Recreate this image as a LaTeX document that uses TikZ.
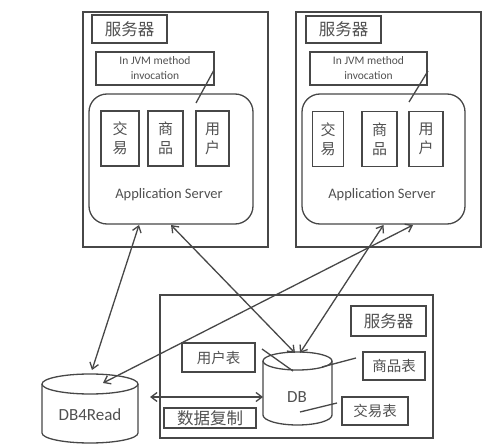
\documentclass[tikz,border=0pt]{standalone}
\usepackage{fontspec}
\setmainfont{Carlito}
\newfontfamily\cjk{Noto Sans CJK SC}
\usetikzlibrary{arrows.meta}
\definecolor{linec}{HTML}{474747}
\definecolor{txtc}{HTML}{505050}
\newcommand{\cjkbig}{\cjk\fontsize{16.5}{18}\selectfont}
\newcommand{\cjkin}{\cjk\fontsize{15}{19}\selectfont}
\newcommand{\cjktab}{\cjk\fontsize{14.5}{16}\selectfont}
\newcommand{\jvmf}{\fontsize{11.5}{15}\selectfont}
\newcommand{\appf}{\fontsize{14.5}{16}\selectfont}
\newcommand{\dbf}{\fontsize{17}{19}\selectfont}
\tikzset{
  ln/.style={draw=linec, line width=1.3pt},
  bx/.style={ln, rectangle, inner sep=0pt, outer sep=0pt, text=txtc},
  ghost/.style={rectangle, inner sep=0pt, outer sep=0pt},
  lbl/.style={text=txtc, inner sep=0pt},
  arr/.style={ln, {Straight Barb[length=6pt,width=9pt]}-{Straight Barb[length=6pt,width=9pt]}},
}
\begin{document}
\begin{tikzpicture}[x=1pt,y=-1pt]
\useasboundingbox (0,0) rectangle (490,446);
% left server
\node[bx, minimum width=185pt, minimum height=235pt] (srvL) at (175.5,129.5) {};
\node[bx, minimum width=75pt, minimum height=28pt, font=\cjkbig] (labL) at (129.5,29) {服务器};
\node[bx, minimum width=118pt, minimum height=33pt, align=center, font=\jvmf] (jvmL) at (155,68.5) {In JVM method\\invocation};
\node[bx, rounded corners=18pt, minimum width=164pt, minimum height=130pt] (appL) at (171,159) {};
\node[lbl, font=\appf] (appLt) at (169,195) {Application Server};
\node[bx, minimum width=38pt, minimum height=55pt, align=center, font=\cjkin] (jyL) at (120,138.5) {交\\易};
\node[bx, minimum width=35pt, minimum height=55pt, align=center, font=\cjkin] (spL) at (165.5,138.5) {商\\品};
\node[bx, minimum width=33pt, minimum height=55pt, align=center, font=\cjkin] (yhL) at (212.5,138.5) {用\\户};
\draw[ln] ([shift={(0,1.5)}]jvmL.east) -- ([shift={(25,9)}]appL.north);
% right server
\node[bx, minimum width=185pt, minimum height=235pt] (srvR) at (388.5,129.5) {};
\node[bx, minimum width=75pt, minimum height=27pt, font=\cjkbig] (labR) at (343.5,29.5) {服务器};
\node[bx, minimum width=117pt, minimum height=33pt, align=center, font=\jvmf] (jvmR) at (368.5,68.5) {In JVM method\\invocation};
\node[bx, rounded corners=18pt, minimum width=163pt, minimum height=130pt] (appR) at (383.5,159) {};
\node[lbl, font=\appf] (appRt) at (382,195) {Application Server};
\node[bx, minimum width=31pt, minimum height=55pt, align=center, font=\cjkin] (jyR) at (328,139) {交\\易};
\node[bx, minimum width=35pt, minimum height=55pt, align=center, font=\cjkin] (spR) at (379.5,139) {商\\品};
\node[bx, minimum width=34pt, minimum height=55pt, align=center, font=\cjkin] (yhR) at (426,139) {用\\户};
\draw[ln] ([shift={(1,2.5)}]jvmR.east) -- ([shift={(25.5,8)}]appR.north);
% bottom server
\node[bx, minimum width=273pt, minimum height=143pt] (srvB) at (296.5,366.5) {};
\node[bx, minimum width=75pt, minimum height=30pt, font=\cjkbig] (labB) at (388.5,321) {服务器};
\node[bx, minimum width=73pt, minimum height=29pt, font=\cjktab] (yhb) at (218.5,357.5) {用户表};
\node[bx, minimum width=62pt, minimum height=28pt, font=\cjktab] (spb) at (394,366) {商品表};
\node[bx, minimum width=66pt, minimum height=28pt, font=\cjktab] (jyb) at (375,411) {交易表};
\node[bx, minimum width=92pt, minimum height=20pt, font=\cjkbig] (sjfz) at (210,418) {数据复制};
% DB cylinder
\node[ghost, minimum width=69pt, minimum height=73pt] (db) at (297.5,388.5) {};
\draw[ln] (297.5,361) ellipse [x radius=34.5pt, y radius=9pt];
\draw[ln] (263,361) -- (263,415) arc [start angle=180, end angle=360, x radius=34.5pt, y radius=10pt] -- (332,361);
\node[lbl, font=\dbf] (dbt) at (297,397) {DB};
% DB4Read cylinder
\node[ghost, minimum width=96pt, minimum height=69pt] (db4) at (90,408.5) {};
\draw[ln] (90,384) ellipse [x radius=48pt, y radius=10pt];
\draw[ln] (42,384) -- (42,433) arc [start angle=180, end angle=360, x radius=48pt, y radius=10pt] -- (138,384);
\node[lbl, font=\dbf] (db4t) at (90,415) {DB4Read};
% leader lines
\draw[ln] ([shift={(7,-8.5)}]yhb.east) -- ([shift={(-4.5,19)}]db.north);
\draw[ln] ([shift={(-7,-8)}]spb.west) -- ([shift={(24.5,15)}]db.north);
\draw[ln] ([shift={(-5,-8)}]jyb.west) -- ([shift={(2.5,23.5)}]db.center);
% arrows
\draw[arr] ([shift={(-32,1)}]appL.south) -- ([shift={(2,-4)}]db4.north);
\draw[arr] ([shift={(0,1)}]appL.south) -- ([shift={(-2.5,1)}]db.north);
\draw[arr] ([shift={(0,1)}]appR.south) -- ([shift={(2.5,1)}]db.north);
\draw[arr] ([shift={(29.5,1)}]appR.south) -- ([shift={(13,9)}]db4.north);
\draw[arr] ([shift={(12,-11.5)}]db4.east) -- ([shift={(0,8.5)}]db.west);
\end{tikzpicture}
\end{document}
